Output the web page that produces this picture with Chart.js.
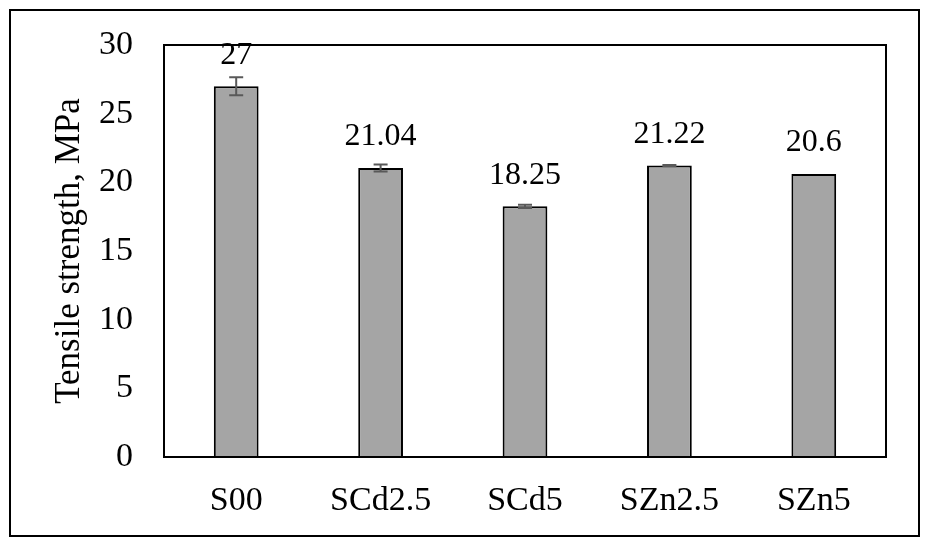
<!DOCTYPE html>
<html>
<head>
<meta charset="utf-8">
<script src="https://cdn.jsdelivr.net/npm/chart.js@4.4.1/dist/chart.umd.min.js"></script>
<style>
  html, body { margin: 0; padding: 0; background: #fff; }
  #wrap { width: 929px; height: 547px; }
</style>
</head>
<body>
<div id="wrap"><canvas id="mychart" width="929" height="547"></canvas></div>
<script>
const labels = ['S00', 'SCd2.5', 'SCd5', 'SZn2.5', 'SZn5'];
const strength = [27, 21.04, 18.25, 21.22, 20.6];
const errors = [0.65, 0.25, 0.12, 0.05, 0];
const valueText = ['27', '21.04', '18.25', '21.22', '20.6'];

const serif = "'Liberation Serif', 'Times New Roman', serif";

// outer frame + plot frame
const frames = {
    id: 'frames',
    beforeDraw(chart) {
        const c = chart.ctx;
        c.save();
        c.fillStyle = '#fff';
        c.fillRect(0, 0, chart.width, chart.height);
        c.strokeStyle = '#000';
        c.lineWidth = 2;
        c.strokeRect(10, 10, 909, 526);
        c.restore();
    },
    afterDatasetsDraw(chart) {
        const a = chart.chartArea;
        const c = chart.ctx;
        c.save();
        c.strokeStyle = '#000';
        c.lineWidth = 2;
        c.strokeRect(a.left, a.top, a.right - a.left, a.bottom - a.top);
        c.restore();
    }
};

// error bars and value labels
const extras = {
    id: 'extras',
    afterDatasetsDraw(chart) {
        const c = chart.ctx;
        const y = chart.scales.y;
        const meta = chart.getDatasetMeta(0);
        c.save();
        meta.data.forEach((bar, i) => {
            const v = strength[i], e = errors[i];
            if (e > 0) {
                const top = y.getPixelForValue(v + e);
                const bot = y.getPixelForValue(v - e);
                c.strokeStyle = '#595959';
                c.lineWidth = 2;
                c.beginPath();
                c.moveTo(bar.x, top); c.lineTo(bar.x, bot);
                c.moveTo(bar.x - 7, top); c.lineTo(bar.x + 7, top);
                c.moveTo(bar.x - 7, bot); c.lineTo(bar.x + 7, bot);
                c.stroke();
            }
            c.fillStyle = '#000';
            c.font = '32px ' + serif;
            c.textAlign = 'center';
            c.textBaseline = 'middle';
            c.fillText(valueText[i], bar.x, y.getPixelForValue(v) - 31);
        });
        c.restore();
    }
};

const ctx = document.getElementById('mychart').getContext('2d');
let myChart = new Chart(ctx, {
    type: 'bar',
    data: {
        labels: labels,
        datasets: [
            {
                data: strength,
                backgroundColor: '#A5A5A5',
                borderColor: '#000',
                borderWidth: 2,
                barPercentage: 0.31,
                categoryPercentage: 1
            }
        ]
    },
    options: {
        responsive: false,
        animation: false,
        layout: { padding: { left: 49, top: 45, right: 43, bottom: 0 } },
        plugins: { legend: { display: false }, tooltip: { enabled: false } },
        scales: {
            x: {
                grid: { display: false, drawTicks: false },
                border: { color: '#000', width: 2 },
                ticks: { color: '#000', font: { family: serif, size: 34 }, padding: 24 },
                afterFit(s) { s.height = 90; }
            },
            y: {
                min: 0, max: 30,
                grid: { display: false, drawTicks: false },
                border: { color: '#000', width: 2 },
                ticks: { stepSize: 5, color: '#000', font: { family: serif, size: 34 }, padding: 31 },
                title: { display: true, text: 'Tensile strength, MPa', color: '#000', font: { family: serif, size: 35 }, padding: 0 },
                afterFit(s) { s.width = 115; s.paddingTop = 0; s.paddingBottom = 0; }
            }
        }
    },
    plugins: [frames, extras]
});
</script>
</body>
</html>
